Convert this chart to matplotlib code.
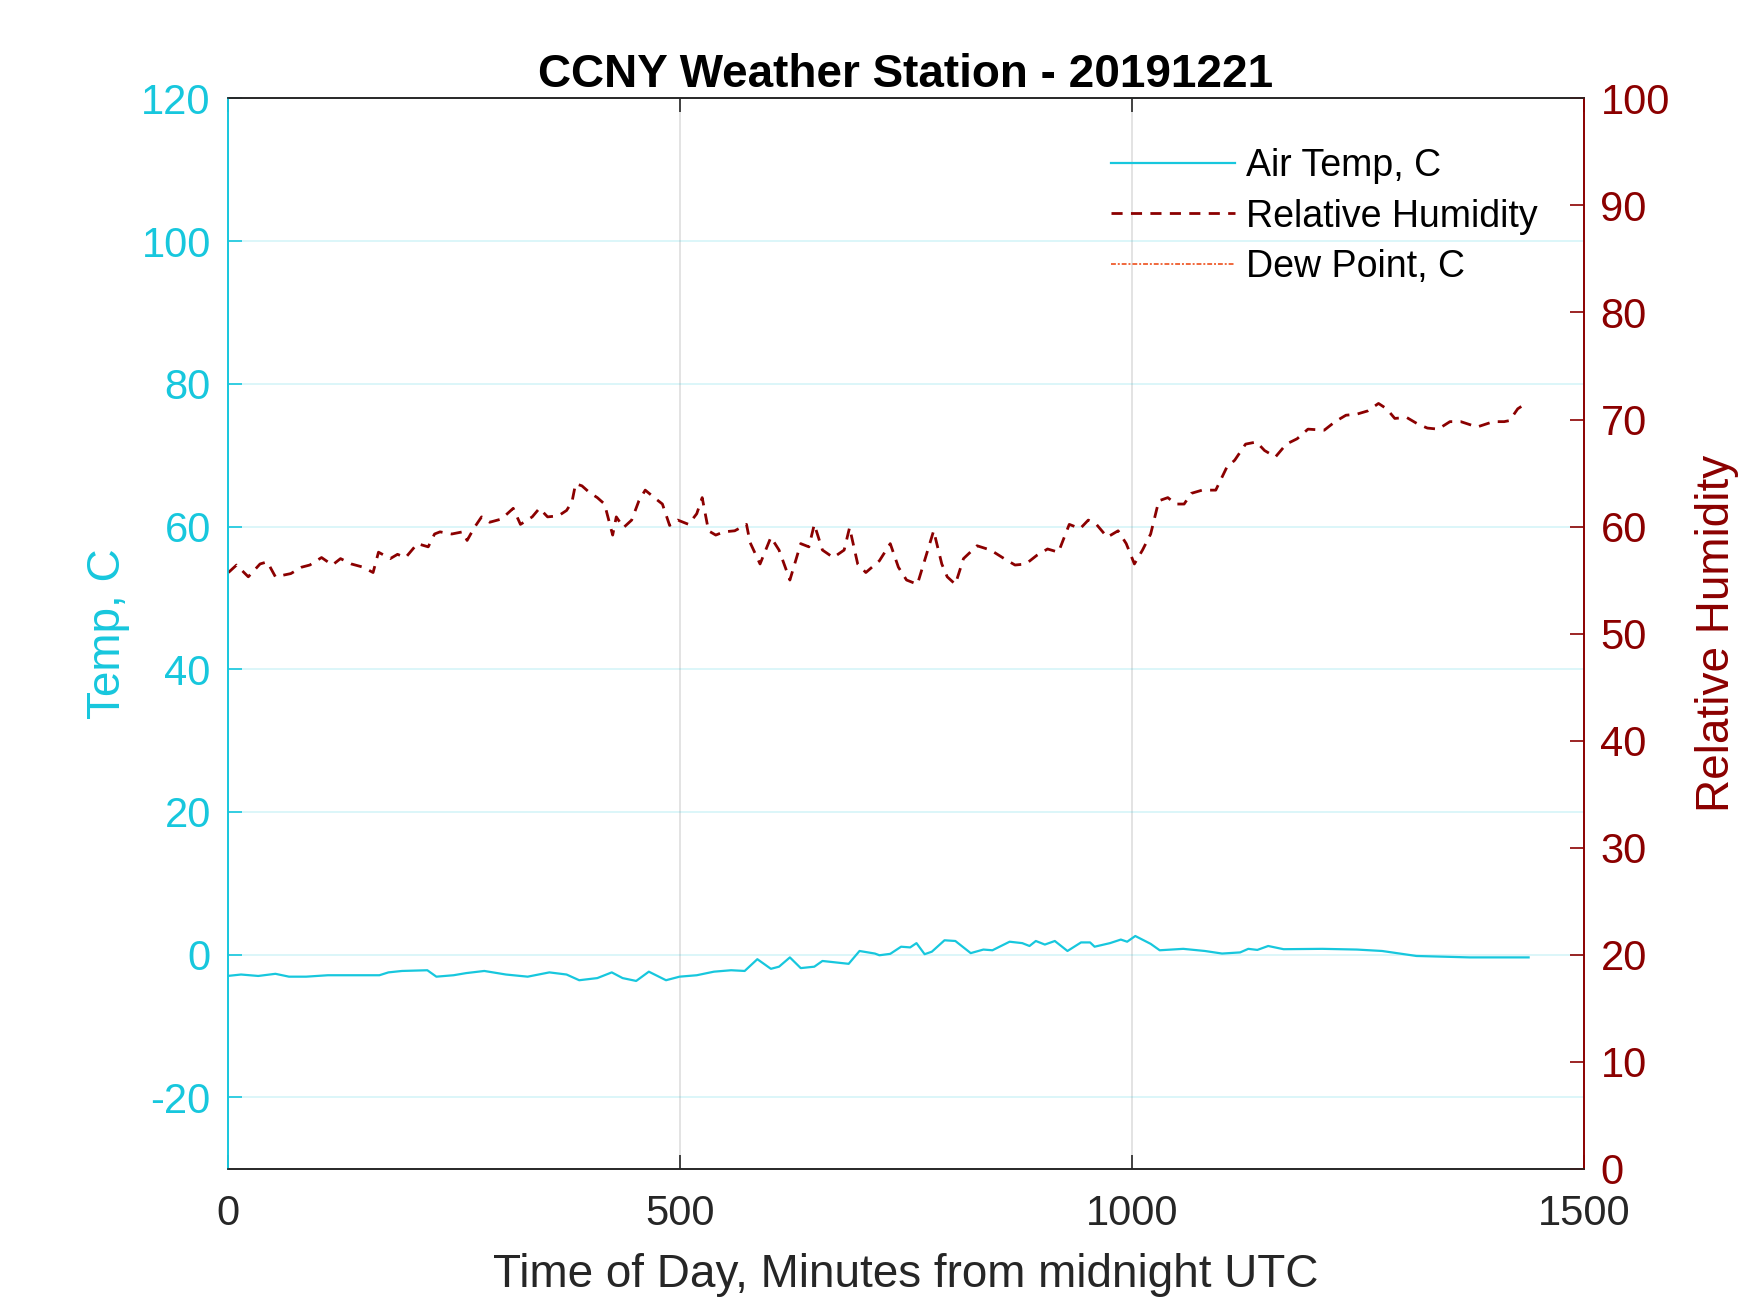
import matplotlib.pyplot as plt

plt.rcParams['font.family'] = ['Liberation Sans', 'DejaVu Sans']
plt.rcParams['axes.unicode_minus'] = False

# air temperature (minutes from midnight UTC, deg C)
temp_min = [0, 15, 34, 53, 68, 87, 111, 140, 168, 178, 193, 221, 231, 250, 264, 284,
            308, 332, 356, 375, 389, 409, 425, 437, 452, 466, 485, 500, 519, 538, 557,
            572, 586, 601, 610, 622, 634, 649, 658, 687, 699, 716, 721, 733, 745, 755,
            762, 771, 779, 793, 805, 822, 836, 846, 865, 879, 887, 894, 904, 915, 929,
            944, 954, 959, 976, 988, 995, 1004, 1021, 1031, 1057, 1081, 1100, 1120,
            1129, 1139, 1151, 1168, 1211, 1249, 1277, 1315, 1345, 1374, 1403, 1439]
air_temp = [-3.0, -2.8, -3.0, -2.7, -3.1, -3.1, -2.9, -2.9, -2.9, -2.5, -2.3, -2.2, -3.1,
            -2.9, -2.6, -2.3, -2.8, -3.1, -2.5, -2.8, -3.6, -3.3, -2.5, -3.3, -3.7, -2.4,
            -3.6, -3.1, -2.9, -2.4, -2.2, -2.3, -0.65, -2.0, -1.7, -0.4, -1.9, -1.7, -0.9,
            -1.3, 0.5, 0.14, -0.1, 0.1, 1.1, 1.0, 1.6, 0.05, 0.4, 2.0, 1.9, 0.2, 0.7, 0.6,
            1.8, 1.6, 1.2, 1.9, 1.4, 1.9, 0.5, 1.7, 1.7, 1.1, 1.6, 2.1, 1.8, 2.6, 1.5, 0.6,
            0.8, 0.5, 0.14, 0.3, 0.8, 0.65, 1.2, 0.75, 0.8, 0.7, 0.5, -0.2, -0.3, -0.4,
            -0.4, -0.4]

# relative humidity (%)
rh_min = [1, 10, 23, 36, 44, 53, 70, 82, 91, 104, 116, 125, 137, 150, 161, 167, 180,
          188, 197, 210, 222, 229, 235, 248, 260, 265, 273, 281, 290, 303, 316, 324,
          337, 345, 354, 366, 375, 381, 385, 392, 400, 409, 417, 426, 430, 438, 447,
          455, 462, 472, 481, 489, 498, 510, 519, 525, 532, 540, 549, 561, 574, 578,
          589, 601, 610, 622, 634, 643, 649, 658, 670, 682, 688, 697, 706, 721, 733,
          742, 751, 763, 772, 781, 790, 796, 805, 814, 829, 844, 859, 871, 883, 895,
          907, 919, 931, 943, 952, 961, 973, 985, 994, 1003, 1012, 1021, 1030, 1040,
          1049, 1058, 1066, 1078, 1093, 1105, 1114, 1126, 1138, 1147, 1159, 1171,
          1183, 1195, 1213, 1225, 1237, 1249, 1261, 1273, 1282, 1291, 1304, 1316,
          1327, 1339, 1352, 1364, 1382, 1400, 1412, 1418, 1427, 1436]
rel_hum = [55.7, 56.4, 55.3, 56.5, 56.7, 55.3, 55.6, 56.2, 56.4, 57.1, 56.4, 57.0, 56.5,
           56.2, 55.7, 57.6, 57.0, 57.4, 57.1, 58.4, 58.1, 59.3, 59.5, 59.3, 59.5, 58.7,
           59.9, 60.9, 60.4, 60.7, 61.7, 60.2, 60.9, 61.7, 60.9, 61.0, 61.5, 62.3, 64.0,
           63.8, 63.2, 62.7, 62.1, 59.2, 60.9, 59.9, 60.6, 62.4, 63.4, 62.7, 62.1, 60.1,
           60.6, 60.2, 61.2, 62.7, 59.6, 59.2, 59.5, 59.6, 60.2, 58.5, 56.5, 59.0, 57.8,
           55.0, 58.4, 58.1, 60.2, 57.8, 57.1, 57.8, 59.9, 56.5, 55.7, 56.8, 58.4, 56.2,
           55.0, 54.6, 57.1, 59.6, 56.5, 55.3, 54.6, 57.0, 58.2, 57.8, 57.0, 56.4, 56.5,
           57.3, 57.9, 57.6, 60.2, 59.8, 60.6, 60.2, 59.0, 59.6, 58.4, 56.5, 57.8, 59.3,
           62.4, 62.7, 62.1, 62.1, 63.1, 63.4, 63.4, 65.5, 66.2, 67.7, 67.9, 67.1, 66.5,
           67.7, 68.2, 69.1, 69.0, 69.8, 70.4, 70.5, 70.8, 71.5, 71.0, 70.1, 70.2, 69.6,
           69.2, 69.1, 69.8, 69.8, 69.3, 69.8, 69.8, 69.9, 71.0, 71.5]

# dew point sits below the right axis range, so only its legend entry shows
dew_min = []
dew_point = []

temp_color = '#17c7dd'
rh_color = '#8b0000'
dew_color = '#f0683c'
dark = '#262626'

fig = plt.figure(figsize=(17.5, 13.13), dpi=100)
ax = fig.add_axes([0.13, 0.11, 0.775, 0.815])
ax2 = ax.twinx()

l1, = ax.plot(temp_min, air_temp, color=temp_color, lw=1.6, label='Air Temp, C')
l2, = ax2.plot(rh_min, rel_hum, color=rh_color, lw=2.0, dashes=(4, 3),
               label='Relative Humidity')
l3, = ax2.plot(dew_min, dew_point, color=dew_color, lw=1.4,
               linestyle=(0, (2.5, 1, 1, 1)), label='Dew Point, C')

ax.set_xlim(0, 1500)
ax.set_ylim(-30, 120)
ax2.set_ylim(0, 100)
ax.set_xticks([0, 500, 1000, 1500])
ax.set_yticks(range(-20, 121, 20))
ax2.set_yticks(range(0, 101, 10))

ax.grid(axis='y', color=temp_color, alpha=0.18, lw=1.2)
ax.grid(axis='x', color=dark, alpha=0.15, lw=1.2)

for s in ['top', 'bottom']:
    ax.spines[s].set_color(dark)
    ax2.spines[s].set_color(dark)
ax.spines['left'].set_color(temp_color)
ax2.spines['left'].set_color(temp_color)
ax.spines['right'].set_color(rh_color)
ax2.spines['right'].set_color(rh_color)
for a in (ax, ax2):
    for s in a.spines.values():
        s.set_linewidth(1.2)

ax.tick_params(axis='x', direction='in', length=10, width=1.2, colors=dark,
               labelsize=30, pad=18, top=True)
ax.tick_params(axis='y', direction='in', length=10, width=1.2, colors=temp_color,
               labelsize=30, pad=12)
ax2.tick_params(axis='y', direction='in', length=10, width=1.2, colors=rh_color,
                labelsize=30, pad=12)

ax.set_title('CCNY Weather Station - 20191221', fontsize=33, fontweight='bold', pad=8)
ax.set_xlabel('Time of Day, Minutes from midnight UTC', fontsize=33, color=dark,
              labelpad=14)
ax.set_ylabel('Temp, C', fontsize=33, color=temp_color, labelpad=8)
ax2.set_ylabel('Relative Humidity', fontsize=33, color=rh_color, labelpad=18)

ax2.legend(handles=[l1, l2, l3], loc='upper right', frameon=False, fontsize=27,
           handlelength=3.3, handletextpad=0.3, labelspacing=0.38,
           bbox_to_anchor=(0.991, 0.985))

fig.savefig('out.png', dpi=100)
